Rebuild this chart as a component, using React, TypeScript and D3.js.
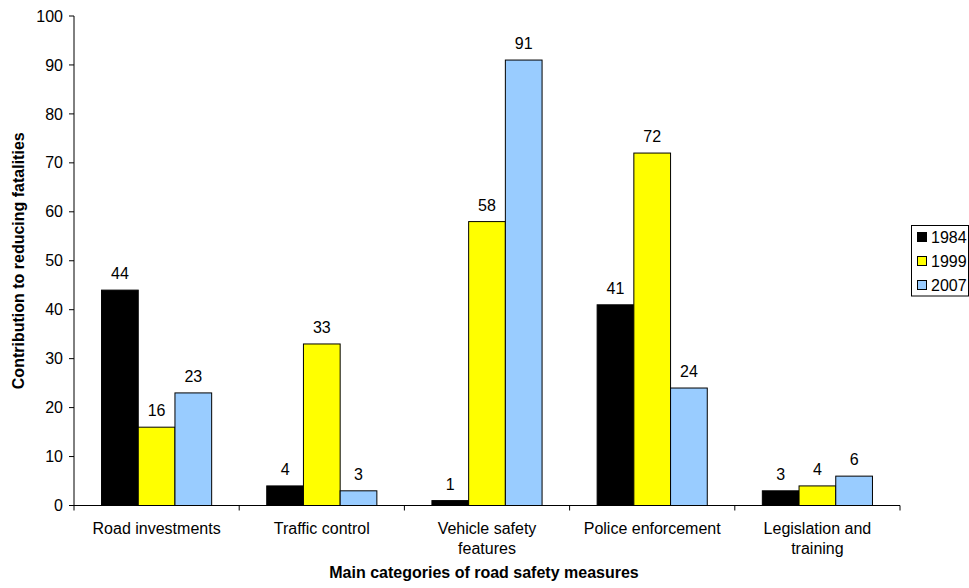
import React from "react";
import * as d3 from "d3";

const categories = [
  ["Road investments"],
  ["Traffic control"],
  ["Vehicle safety", "features"],
  ["Police enforcement"],
  ["Legislation and", "training"],
];
const seriesNames = ["1984", "1999", "2007"];
const values1984 = [44, 4, 1, 41, 3];
const values1999 = [16, 33, 58, 72, 4];
const values2007 = [23, 3, 91, 24, 6];
const yTicks = [0, 10, 20, 30, 40, 50, 60, 70, 80, 90, 100];
const colors = ["#000000", "#FFFF00", "#99CCFF"];

const W = 969;
const H = 588;
const left = 74;
const right = 900;
const top = 16;
const bottom = 505.5;
const font = "'Liberation Sans', Arial, sans-serif";
const fs = 16;

export default function App() {
  const series = [values1984, values1999, values2007];
  const x = d3
    .scaleBand<number>()
    .domain(categories.map((_, i) => i))
    .range([left, right])
    .paddingInner(0)
    .paddingOuter(0);
  const bw = x.bandwidth();
  const barW = bw / 4.5;
  const groupOff = (bw - 3 * barW) / 2;
  const xs = d3
    .scaleBand<number>()
    .domain([0, 1, 2])
    .range([groupOff, groupOff + 3 * barW])
    .padding(0);
  const y = d3.scaleLinear().domain([0, 100]).range([bottom, top]);

  const boundaries = d3.range(categories.length + 1).map((i) =>
    i < categories.length ? (x(i) as number) : right
  );

  return (
    <svg
      width={W}
      height={H}
      style={{ position: "absolute", left: 0, top: 0, background: "#fff" }}
      fontFamily={font}
    >
      <rect x={0} y={0} width={W} height={H} fill="#fff" />
      {/* bars */}
      {categories.map((_, ci) =>
        series.map((vals, si) => {
          const bx = (x(ci) as number) + (xs(si) as number);
          const by = y(vals[ci]);
          return (
            <g key={`b${ci}-${si}`}>
              <rect
                x={bx}
                y={by}
                width={barW}
                height={bottom - by}
                fill={colors[si]}
                stroke="#000"
                strokeWidth={1}
              />
              <text
                x={bx + barW / 2}
                y={by - 11}
                textAnchor="middle"
                fontSize={fs}
                fill="#000"
              >
                {vals[ci]}
              </text>
            </g>
          );
        })
      )}
      {/* y axis */}
      <line x1={left} x2={left} y1={top} y2={bottom} stroke="#000" strokeWidth={1} />
      {yTicks.map((t) => (
        <g key={`yt${t}`}>
          <line x1={left - 5} x2={left} y1={y(t)} y2={y(t)} stroke="#000" />
          <text
            x={63}
            y={y(t)}
            dy="0.35em"
            textAnchor="end"
            fontSize={fs}
            fill="#000"
          >
            {t}
          </text>
        </g>
      ))}
      {/* x axis */}
      <line x1={left} x2={right} y1={bottom} y2={bottom} stroke="#000" strokeWidth={1} />
      {boundaries.map((bx, i) => (
        <line key={`xt${i}`} x1={bx} x2={bx} y1={bottom} y2={bottom + 5} stroke="#000" />
      ))}
      {categories.map((lines, ci) => (
        <text
          key={`cl${ci}`}
          x={(x(ci) as number) + bw / 2}
          y={534}
          textAnchor="middle"
          fontSize={fs}
          fill="#000"
        >
          {lines.map((l, li) => (
            <tspan key={li} x={(x(ci) as number) + bw / 2} dy={li === 0 ? 0 : 20}>
              {l}
            </tspan>
          ))}
        </text>
      ))}
      {/* axis titles */}
      <text
        x={(left + right) / 2 - 3}
        y={578}
        textAnchor="middle"
        fontSize={fs}
        fontWeight="bold"
        fill="#000"
      >
        Main categories of road safety measures
      </text>
      <text
        transform={`translate(24,${(top + bottom) / 2}) rotate(-90)`}
        textAnchor="middle"
        fontSize={fs}
        fontWeight="bold"
        fill="#000"
      >
        Contribution to reducing fatalities
      </text>
      {/* legend */}
      <rect x={911.5} y={225.5} width={57} height={70.5} fill="#fff" stroke="#000" strokeWidth={1} />
      {seriesNames.map((s, i) => (
        <g key={`lg${i}`}>
          <rect
            x={917.5}
            y={232.5 + i * 24}
            width={9}
            height={9}
            fill={colors[i]}
            stroke="#000"
            strokeWidth={1}
          />
          <text x={931} y={237 + i * 24} dy="0.35em" fontSize={fs} fill="#000">
            {s}
          </text>
        </g>
      ))}
    </svg>
  );
}
